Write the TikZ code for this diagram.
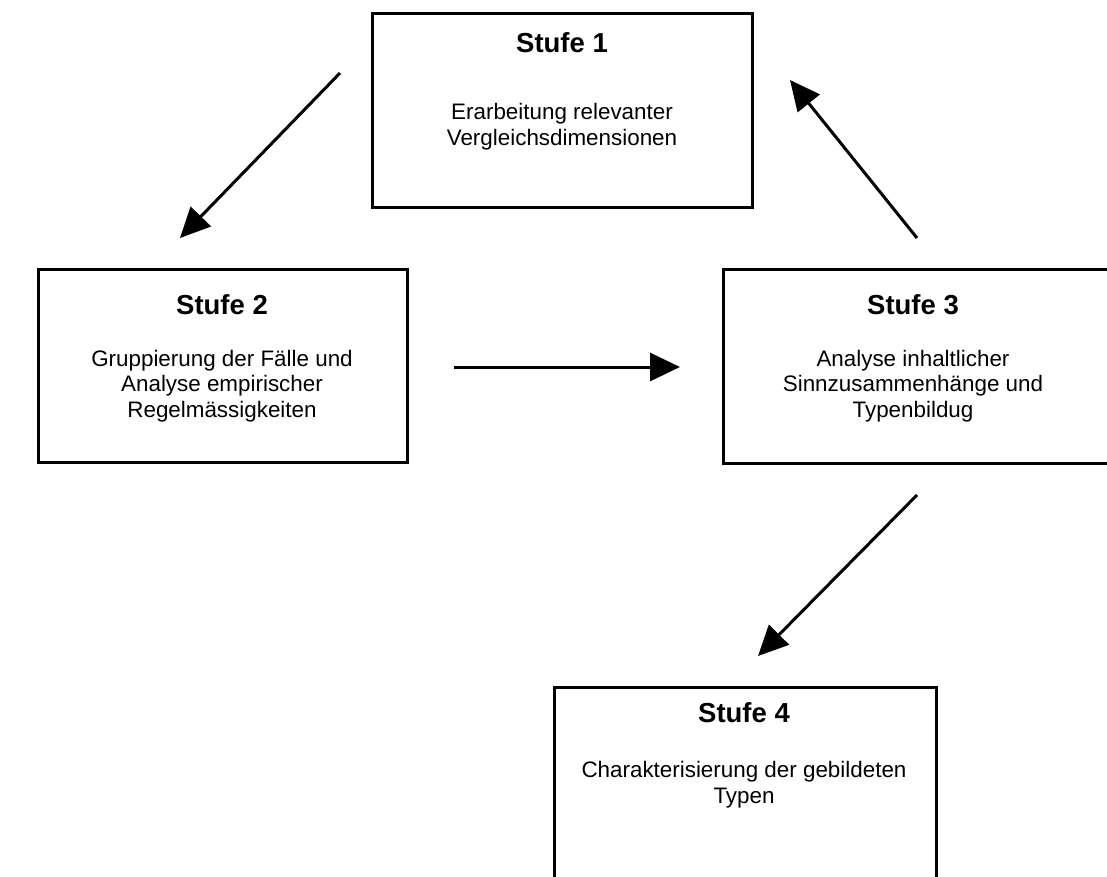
\documentclass[tikz,border=0pt]{standalone}
\usepackage{fontspec}
\setmainfont{Liberation Sans}
\usetikzlibrary{arrows.meta}
\begin{document}
\begin{tikzpicture}[x=1pt,y=-1pt,
  stagebox/.style={draw=black,line width=3pt,rectangle,anchor=north west,inner sep=0pt},
  stagetitle/.style={anchor=base,font=\fontsize{27.5}{32}\selectfont\bfseries,inner sep=0pt},
  stagetext/.style={anchor=base,align=center,font=\fontsize{22.4}{25.5}\selectfont,inner sep=0pt},
  flow/.style={line width=3pt,-{Triangle[length=30pt,width=28pt]}}]
\useasboundingbox (0,0) rectangle (1107,876);
\clip (0,0) rectangle (1107,876);
\fill[white] (0,0) rectangle (1107,876);

% the four stages
\node[stagebox,minimum width=380pt,minimum height=194pt] (b1) at (371,12) {};
\node[stagebox,minimum width=369pt,minimum height=193pt] (b2) at (37,268) {};
\node[stagebox,minimum width=392pt,minimum height=194pt] (b3) at (722,268) {};
\node[stagebox,minimum width=382pt,minimum height=210pt] (b4) at (553,686) {};

% titles (base = baseline) and descriptions (base = baseline of the last line)
\node[stagetitle] (t1) at (562,52) {Stufe 1};
\node[stagetext] (x1) at (562,145) {Erarbeitung relevanter\\Vergleichsdimensionen};

\node[stagetitle] (t2) at (222,314) {Stufe 2};
\node[stagetext] (x2) at (222,417) {Gruppierung der Fälle und\\Analyse empirischer\\Regelmässigkeiten};

\node[stagetitle] (t3) at (913,314) {Stufe 3};
\node[stagetext] (x3) at (913,417) {Analyse inhaltlicher\\Sinnzusammenhänge und\\Typenbildug};

\node[stagetitle] (t4) at (744,722) {Stufe 4};
\node[stagetext] (x4) at (744,803) {Charakterisierung der gebildeten\\Typen};

% arrow end points
\coordinate (a1s) at (340,73);
\coordinate (a1e) at (180,238);
\coordinate (a2s) at (917,238);
\coordinate (a2e) at (790,80);
\coordinate (a3s) at (454,367);
\coordinate (a3e) at (680,367);
\coordinate (a4s) at (917,495);
\coordinate (a4e) at (758,656);

\draw[flow] (a1s) -- (a1e);
\draw[flow] (a2s) -- (a2e);
\draw[flow] (a3s) -- (a3e);
\draw[flow] (a4s) -- (a4e);
\end{tikzpicture}
\end{document}
